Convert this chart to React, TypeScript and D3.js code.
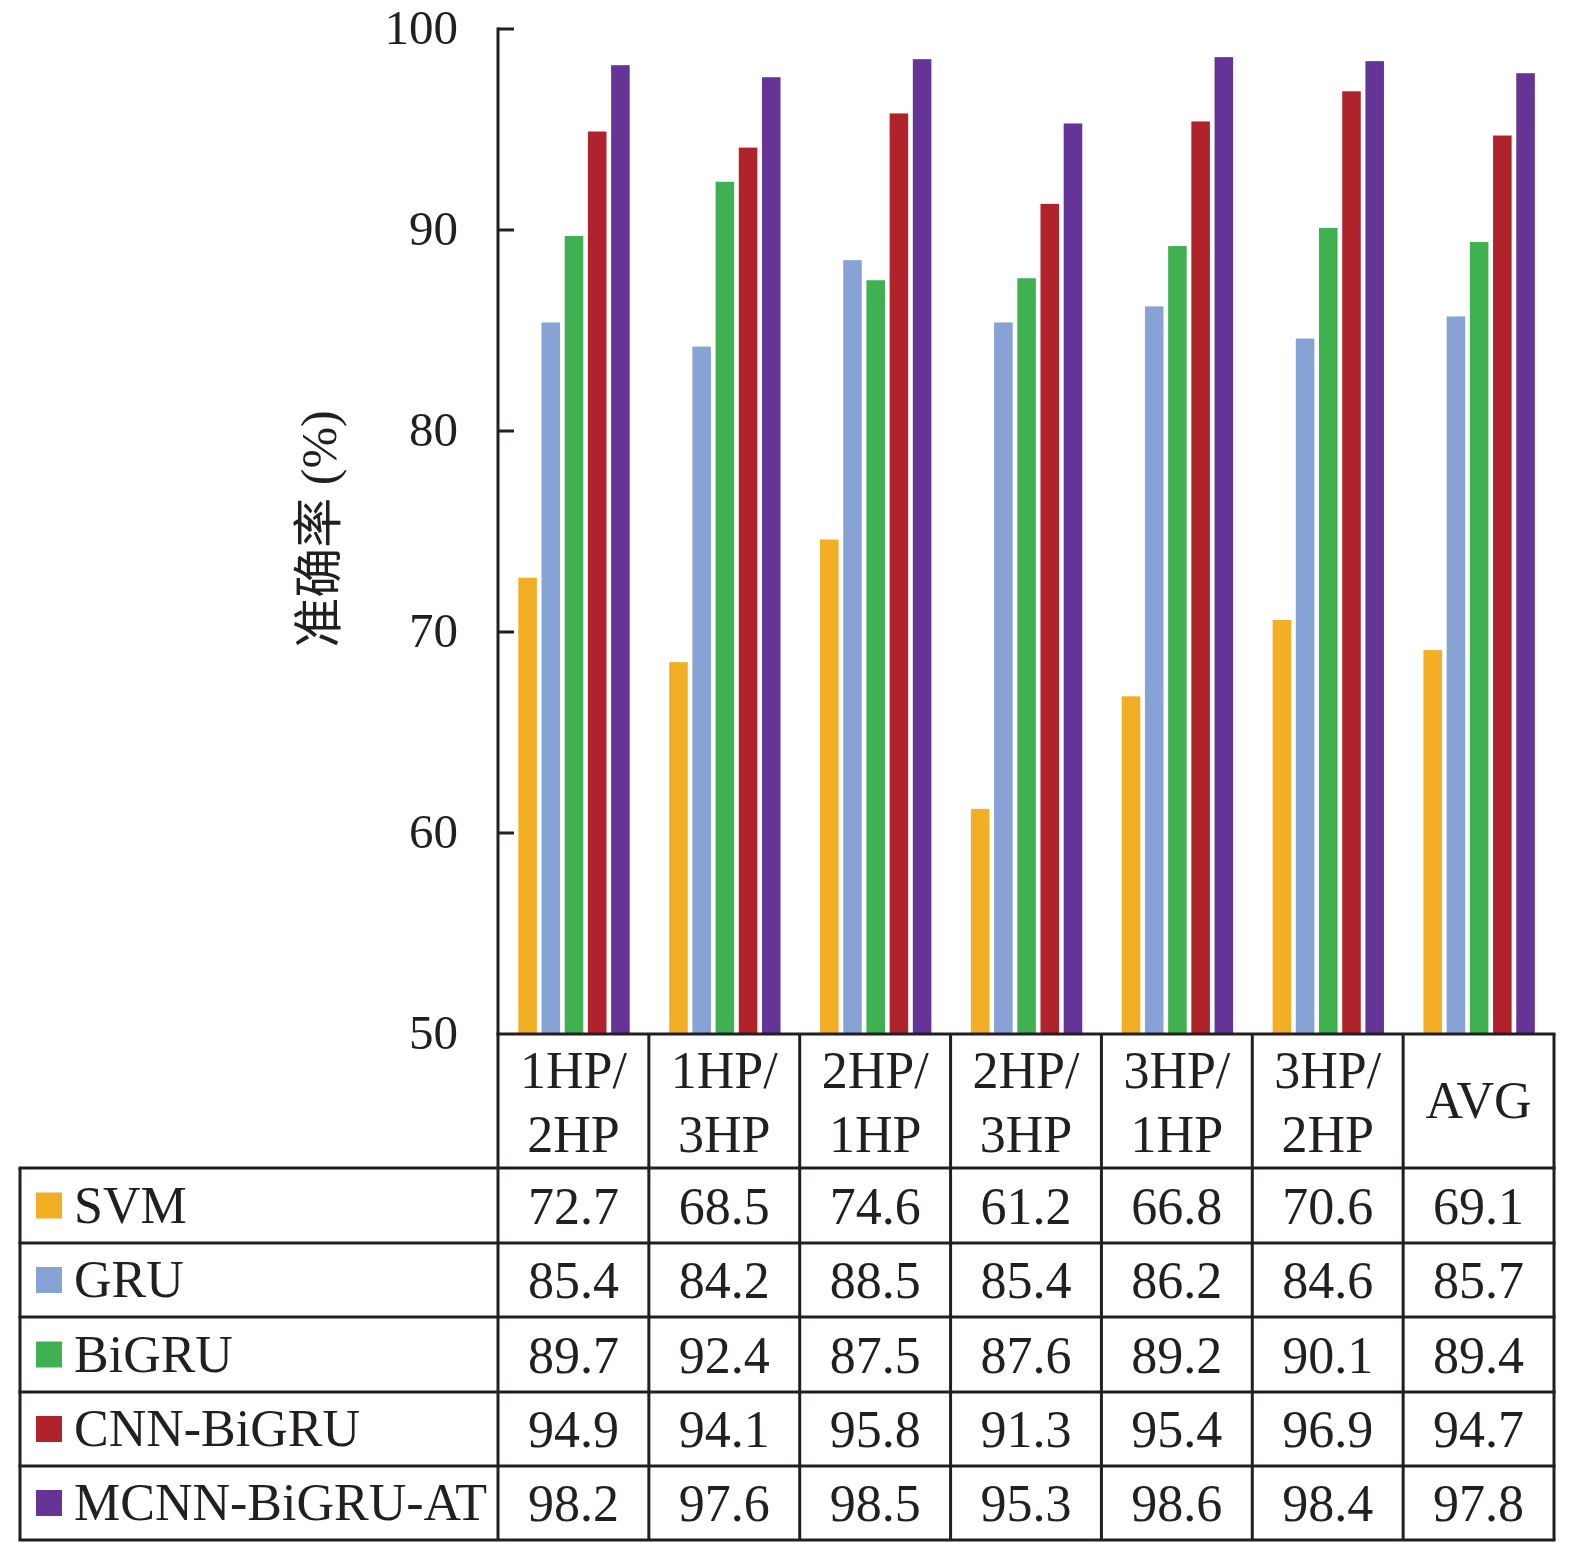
import { useEffect, useRef } from 'react'
import * as d3 from 'd3'

const CATEGORIES = ['1HP/2HP', '1HP/3HP', '2HP/1HP', '2HP/3HP', '3HP/1HP', '3HP/2HP', 'AVG']
const SERIES = ['SVM', 'GRU', 'BiGRU', 'CNN-BiGRU', 'MCNN-BiGRU-AT']
const SVM = [72.7, 68.5, 74.6, 61.2, 66.8, 70.6, 69.1]
const GRU = [85.4, 84.2, 88.5, 85.4, 86.2, 84.6, 85.7]
const BIGRU = [89.7, 92.4, 87.5, 87.6, 89.2, 90.1, 89.4]
const CNN_BIGRU = [94.9, 94.1, 95.8, 91.3, 95.4, 96.9, 94.7]
const MCNN = [98.2, 97.6, 98.5, 95.3, 98.6, 98.4, 97.8]
const Y_TICKS = [50, 60, 70, 80, 90, 100]

const COLORS = ['#f2ae24', '#87a3d6', '#3fb150', '#b0232b', '#643597']
const FONT = '"Liberation Serif", "Times New Roman", "Noto Sans CJK SC", serif'

export default function App() {
  const svgRef = useRef<SVGSVGElement>(null)

  useEffect(() => {
    if (!svgRef.current) return
    const svg = d3.select(svgRef.current)
    svg.selectAll('*').remove()

    const values = [SVM, GRU, BIGRU, CNN_BIGRU, MCNN]
    const left = 498
    const right = 1554
    const tableLeft = 20
    const y = d3.scaleLinear().domain([50, 100]).range([1034, 29])
    const x0 = d3.scaleBand<string>().domain(CATEGORIES).range([left, right])
    const x1 = d3.scaleBand<string>().domain(SERIES).range([18, 134]).paddingInner(0.2).paddingOuter(0.1)

    // bars
    SERIES.forEach((s, si) => {
      svg.append('g')
        .selectAll('rect')
        .data(values[si])
        .join('rect')
        .attr('x', (_, i) => x0(CATEGORIES[i])! + x1(s)!)
        .attr('y', d => y(d))
        .attr('width', x1.bandwidth())
        .attr('height', d => y(50) - y(d))
        .attr('fill', COLORS[si])
    })

    // y axis
    const ax = svg.append('g').attr('stroke', '#231f20').attr('stroke-width', 3)
    ax.append('line').attr('x1', left).attr('x2', left).attr('y1', y(100) - 1.5).attr('y2', 1540)
    ax.selectAll('line.tick')
      .data(Y_TICKS.slice(1))
      .join('line')
      .attr('class', 'tick')
      .attr('x1', left).attr('x2', left + 16)
      .attr('y1', d => y(d)).attr('y2', d => y(d))
    svg.append('g')
      .selectAll('text')
      .data(Y_TICKS)
      .join('text')
      .attr('x', 458)
      .attr('y', d => y(d) + 15)
      .attr('text-anchor', 'end')
      .attr('font-family', FONT)
      .attr('font-size', 49)
      .attr('fill', '#231f20')
      .text(d => d)

    svg.append('text')
      .attr('transform', 'translate(336,529) rotate(-90)')
      .attr('text-anchor', 'middle')
      .attr('font-family', FONT)
      .attr('font-size', 50)
      .attr('fill', '#231f20')
      .text('准确率 (%)')

    // table
    const rowLines = [1168, 1243, 1317, 1392, 1466, 1540]
    const grid = svg.append('g').attr('stroke', '#231f20').attr('stroke-width', 3)
    grid.append('line').attr('x1', left - 1.5).attr('x2', right + 1.5).attr('y1', y(50)).attr('y2', y(50))
    rowLines.forEach(ry => {
      grid.append('line').attr('x1', tableLeft - 1.5).attr('x2', right + 1.5).attr('y1', ry).attr('y2', ry)
    })
    grid.append('line').attr('x1', tableLeft).attr('x2', tableLeft).attr('y1', rowLines[0]).attr('y2', 1540)
    CATEGORIES.forEach(c => {
      const cx = x0(c)! + x0.bandwidth()
      grid.append('line').attr('x1', cx).attr('x2', cx).attr('y1', y(50)).attr('y2', 1540)
    })

    const txt = svg.append('g')
      .attr('font-family', FONT)
      .attr('font-size', 52)
      .attr('fill', '#231f20')
      .attr('text-anchor', 'middle')

    CATEGORIES.forEach(c => {
      const cx = x0(c)! + x0.bandwidth() / 2
      const parts = c.split('/')
      if (parts.length === 2) {
        txt.append('text').attr('x', cx).attr('y', 1088).text(parts[0] + '/')
        txt.append('text').attr('x', cx).attr('y', 1152).text(parts[1])
      } else {
        txt.append('text').attr('x', cx).attr('y', 1118).text(c)
      }
    })

    SERIES.forEach((s, si) => {
      const top = rowLines[si]
      const mid = (top + rowLines[si + 1]) / 2
      svg.append('rect')
        .attr('x', 36).attr('y', mid - 13)
        .attr('width', 26).attr('height', 26)
        .attr('fill', COLORS[si])
      svg.append('text')
        .attr('x', 74).attr('y', mid + 17)
        .attr('font-family', FONT)
        .attr('font-size', 52)
        .attr('fill', '#231f20')
        .text(s)
      values[si].forEach((v, i) => {
        txt.append('text')
          .attr('x', x0(CATEGORIES[i])! + x0.bandwidth() / 2)
          .attr('y', mid + 18)
          .text(v.toFixed(1))
      })
    })
  }, [])

  return (
    <svg
      ref={svgRef}
      width={1575}
      height={1543}
      style={{ position: 'absolute', left: 0, top: 0, background: '#fff' }}
    />
  )
}
